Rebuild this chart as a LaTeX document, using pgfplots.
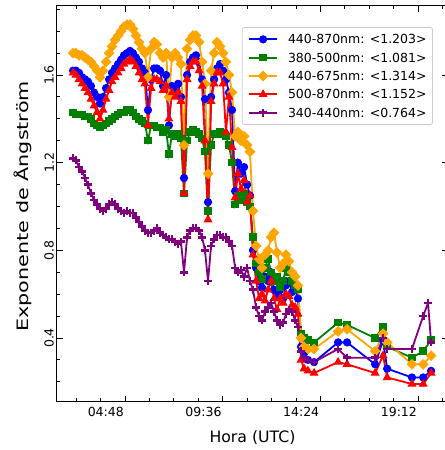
\documentclass[border=0pt]{standalone}
\usepackage{fontspec}
\setmainfont{DejaVu Sans}
\usepackage{graphicx}
\usepackage{pgfplots}
\usepackage{pgfplotstable}
\pgfplotsset{compat=1.18}

\definecolor{mblue}{HTML}{0000FF}
\definecolor{mgreen}{HTML}{008000}
\definecolor{morange}{HTML}{FFA500}
\definecolor{mred}{HTML}{FF0000}
\definecolor{mpurple}{HTML}{800080}

% Angstrom exponent for five wavelength pairs; t = hour of day (UTC)
\pgfplotstableread{
t     B    G    O    R    P
2.25  1.62 1.43 1.70 1.61 1.22
2.39  1.62 1.42 1.70 1.60 1.21
2.54  1.61 1.42 1.69 1.58 1.18
2.69  1.59 1.42 1.69 1.56 1.16
2.84  1.58 1.41 1.68 1.54 1.13
2.98  1.57 1.41 1.67 1.52 1.10
3.13  1.55 1.40 1.66 1.49 1.06
3.28  1.52 1.38 1.64 1.46 1.03
3.43  1.50 1.37 1.62 1.43 1.01
3.57  1.47 1.36 1.59 1.40 0.99
3.72  1.50 1.37 1.62 1.44 0.98
3.87  1.54 1.38 1.66 1.49 0.99
4.02  1.58 1.39 1.70 1.53 1.01
4.16  1.61 1.40 1.73 1.57 1.02
4.31  1.63 1.41 1.76 1.59 1.01
4.46  1.65 1.42 1.78 1.61 0.99
4.61  1.67 1.43 1.80 1.63 0.98
4.75  1.69 1.43 1.82 1.65 0.97
4.90  1.70 1.44 1.83 1.66 0.98
5.05  1.71 1.44 1.83 1.67 0.97
5.19  1.70 1.43 1.81 1.66 0.97
5.34  1.68 1.41 1.78 1.64 0.95
5.49  1.66 1.40 1.75 1.61 0.93
5.64  1.63 1.39 1.72 1.58 0.91
5.78  1.61 1.38 1.70 1.56 0.89
5.93  1.44 1.30 1.59 1.37 0.88
6.08  1.58 1.37 1.72 1.54 0.88
6.23  1.63 1.37 1.75 1.58 0.89
6.37  1.63 1.36 1.74 1.58 0.90
6.52  1.62 1.36 1.70 1.57 0.88
6.67  1.55 1.34 1.68 1.53 0.87
6.82  1.60 1.35 1.70 1.55 0.86
6.96  1.37 1.24 1.50 1.40 0.85
7.11  1.55 1.33 1.68 1.52 0.85
7.26  1.53 1.32 1.70 1.50 0.84
7.41  1.56 1.33 1.68 1.52 0.83
7.55  1.50 1.31 1.65 1.48 0.84
7.70  1.13 1.06 1.28 1.06 0.70
7.85  1.60 1.30 1.72 1.58 0.86
8.00  1.66 1.34 1.76 1.64 0.89
8.14  1.68 1.35 1.78 1.66 0.90
8.29  1.69 1.34 1.78 1.66 0.90
8.44  1.66 1.33 1.75 1.62 0.89
8.59  1.58 1.31 1.66 1.55 0.86
8.73  1.49 1.25 1.56 1.30 0.80
8.88  1.02 0.98 1.15 0.94 0.66
9.03  1.50 1.28 1.62 1.48 0.82
9.18  1.58 1.33 1.70 1.56 0.85
9.32  1.63 1.33 1.75 1.61 0.87
9.47  1.65 1.34 1.73 1.61 0.87
9.62  1.62 1.33 1.70 1.56 0.86
9.76  1.58 1.32 1.66 1.34 0.86
9.91  1.52 1.28 1.60 1.50 0.84
10.06 1.44 1.20 1.52 1.27 0.82
10.21 1.07 1.01 1.32 1.04 0.72
10.35 1.20 1.05 1.34 1.15 0.70
10.50 1.15 1.03 1.30 1.08 0.71
10.65 1.18 1.06 1.32 1.12 0.68
10.80 1.10 1.02 1.28 1.02 0.72
10.94 1.05 1.00 1.25 1.05 0.66
11.09 0.80 0.86 0.98 0.78 0.62
11.24 0.72 0.74 0.82 0.66 0.54
11.39 0.66 0.70 0.76 0.58 0.50
11.53 0.63 0.67 0.72 0.60 0.48
11.68 0.68 0.72 0.78 0.57 0.52
11.83 0.66 0.76 0.80 0.62 0.54
11.98 0.70 0.70 0.86 0.66 0.56
12.12 0.62 0.66 0.88 0.58 0.52
12.27 0.59 0.68 0.79 0.53 0.48
12.42 0.62 0.63 0.72 0.58 0.46
12.57 0.58 0.66 0.74 0.56 0.47
12.71 0.64 0.72 0.78 0.60 0.51
12.86 0.66 0.70 0.75 0.59 0.53
13.01 0.61 0.66 0.70 0.55 0.52
13.16 0.63 0.64 0.68 0.54 0.48
13.30 0.58 0.62 0.64 0.51 0.45
13.45 0.36 0.42 0.40 0.30 0.34
13.60 0.33 0.40 0.36 0.26 0.31
13.79 0.30 0.39 0.35 0.25 0.30
14.09 0.29 0.38 0.35 0.24 0.29
15.27 0.38 0.47 0.43 0.29 0.35
15.71 0.38 0.46 0.44 0.28 0.31
17.09 0.28 0.40 0.34 0.24 0.31
17.48 0.39 0.45 0.42 0.32 0.40
17.68 0.26 0.36 0.38 0.22 0.35
18.90 0.22 0.31 0.28 0.19 0.35
19.45 0.22 0.34 0.28 0.19 0.50
19.69 nan  nan  nan  nan  0.56
19.84 0.25 0.39 0.32 0.24 0.38
}\aedata

\begin{document}
\begin{tikzpicture}
\begin{axis}[
  at={(0,0)}, anchor=south west,
  scale only axis, width=391bp, height=396bp,
  xmin=1.46, xmax=20.67, ymin=0.108, ymax=1.915,
  axis line style={line width=1bp},
  tick style={black, line width=0.9bp},
  tick align=inside,
  major tick length=6bp, minor tick length=3.5bp,
  xtick={4.8,9.6,14.4,19.2},
  xticklabels={04:48,09:36,14:24,19:12},
  minor xtick={2.4,3.6,6,7.2,8.4,10.8,12,13.2,15.6,16.8,18,20.4},
  ytick={0.4,0.8,1.2,1.6},
  yticklabels={0.4,0.8,1.2,1.6},
  minor ytick={0.2,0.3,0.5,0.6,0.7,0.9,1.0,1.1,1.3,1.4,1.5,1.7,1.8,1.9},
  tick label style={font=\fontsize{12.5bp}{15bp}\selectfont},
  xticklabel style={anchor=north east, inner xsep=1bp, inner ysep=5.5bp},
  yticklabel style={rotate=90, anchor=south, inner xsep=0pt, inner ysep=3bp},
  xlabel={Hora (UTC)},
  xlabel style={font=\fontsize{15.7bp}{18bp}\selectfont,
    at={(axis description cs:0.5,-0.1028)}, anchor=base},
  ylabel={\scalebox{1.32}[1]{Exponente de Ångström}},
  ylabel style={font=\fontsize{15.7bp}{18bp}\selectfont,
    at={(axis description cs:-0.0729,0.494)}, anchor=base},
  legend style={at={(rel axis cs:0.9616,0.947)}, anchor=north east,
    draw=black!20, line width=0.8bp, rounded corners=2.5bp, fill=white,
    font=\fontsize{12.5bp}{15bp}\selectfont,
    inner xsep=6bp, inner ysep=7.45bp, row sep=9.15bp, column sep=10bp,
    nodes={inner xsep=0pt, inner ysep=0pt, text height=9.1bp, text depth=0bp}},
  legend cell align=left,
  legend image code/.code={\draw[mark repeat=2, mark phase=2, #1]
    plot coordinates {(0bp,0bp) (14bp,0bp) (28bp,0bp)};},
]
\addplot[mblue, line width=1.8bp, mark=*, mark size=3.6bp,
  mark options={line width=1bp}] table[x=t, y=B] {\aedata};
\addlegendentry{440-870nm: <1.203>}
\addplot[mgreen, line width=1.8bp, mark=square*, mark size=3.2bp,
  mark options={line width=1bp}] table[x=t, y=G] {\aedata};
\addlegendentry{380-500nm: <1.081>}
\addplot[morange, line width=1.8bp, mark=square*, mark size=3.3bp,
  mark options={rotate=45, line width=1bp}] table[x=t, y=O] {\aedata};
\addlegendentry{440-675nm: <1.314>}
\addplot[mred, line width=1.8bp, mark=triangle*, mark size=4.2bp,
  mark options={line width=1bp}] table[x=t, y=R] {\aedata};
\addlegendentry{500-870nm: <1.152>}
\addplot[mpurple, line width=1.8bp, mark=+, mark size=4bp,
  mark options={line width=2.7bp}] table[x=t, y=P] {\aedata};
\addlegendentry{340-440nm: <0.764>}
\end{axis}
\pgfresetboundingbox
\useasboundingbox (-57bp,-48bp) rectangle (388bp,402bp);
\end{tikzpicture}
\end{document}
